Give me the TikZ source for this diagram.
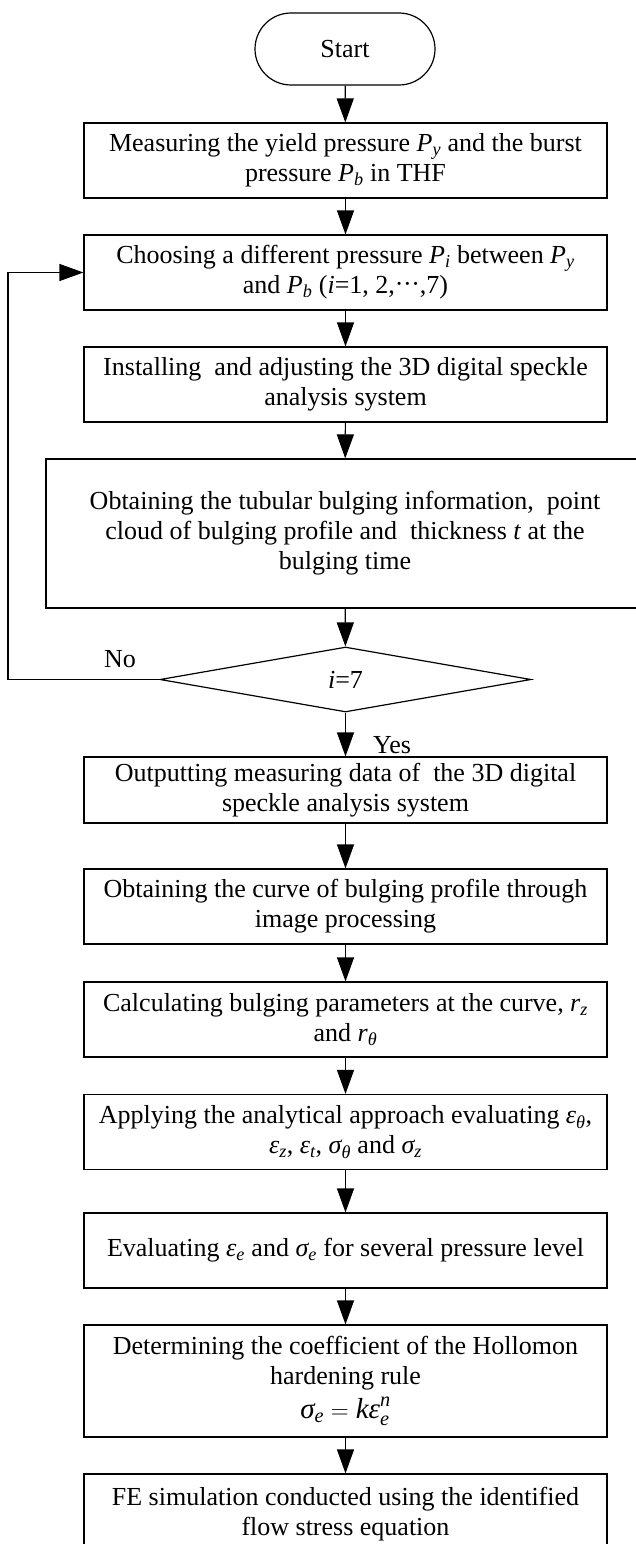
\documentclass[tikz,border=0pt]{standalone}
\usepackage{amsmath}
\usepackage{fontspec}
\setmainfont{Liberation Serif}
\usetikzlibrary{arrows.meta,shapes.geometric,shapes.misc}
\newcommand{\iv}[1]{\textit{#1}}
\newcommand{\mydots}{\raisebox{0.05em}{·\kern-0.02em·\kern-0.02em·}}
\begin{document}
\begin{tikzpicture}[x=1pt,y=-1pt,
  txt/.style={font=\fontsize{26}{30}\selectfont},
  box/.style={draw, line width=1.2pt, minimum width=523pt, inner sep=0pt, align=center, txt},
  arr/.style={-{Triangle[length=24pt,width=17pt]}, line width=1.2pt},
  lbl/.style={txt, inner sep=0pt}]
\useasboundingbox (0,0) rectangle (636,1544);
\clip (0,0) rectangle (636,1544);

\node[draw, line width=1.2pt, rounded rectangle, minimum width=180pt, minimum height=72pt, inner sep=0pt, txt] (start) at (345,49) {Start};

\node[box, minimum height=75pt] (b1) at (345.5,160.5) {Measuring the yield pressure $\iv{P}_{\iv{y}}$ and the burst\\ pressure $\iv{P}_{\iv{b}}$ in THF};
\node[box, minimum height=75pt] (b2) at (345.5,272.5) {Choosing a different pressure $\iv{P}_{\iv{i}}$ between $\iv{P}_{\iv{y}}$\\ and $\iv{P}_{\iv{b}}$ (\iv{i}=1, 2,\mydots,7)};
\node[box, minimum height=75pt] (b3) at (345.5,384.5) {Installing\ \ and adjusting the 3D digital speckle\\ analysis system};
\node[box, minimum width=598pt, minimum height=149pt] (b4) at (345,533.5) {Obtaining the tubular bulging information,\ \ point\\ cloud of bulging profile and\ \ thickness \iv{t} at the\\ bulging time};
\node[diamond, draw, line width=1.2pt, minimum width=371pt, minimum height=65pt, inner sep=0pt, txt] (dia) at (345.5,679.5) {\iv{i}=7};
\node[box, minimum height=66pt] (b5) at (345.5,790) {Outputting measuring data of\ \ the 3D digital\\ speckle analysis system};
\node[box, minimum height=75pt] (b6) at (345.5,906.5) {Obtaining the curve of bulging profile through\\ image processing};
\node[box, minimum height=75pt] (b7) at (345.5,1019.5) {Calculating bulging parameters at the curve, $\iv{r}_{\iv{z}}$\\ and $\iv{r}_{\iv{θ}}$};
\node[box, minimum height=75pt] (b8) at (345.5,1132) {Applying the analytical approach evaluating $\iv{ε}_{\iv{θ}}$,\\ $\iv{ε}_{\iv{z}}$, $\iv{ε}_{\iv{t}}$, $\iv{σ}_{\iv{θ}}$ and $\iv{σ}_{\iv{z}}$};
\node[box, minimum height=75pt] (b9) at (345.5,1250.5) {Evaluating $\iv{ε}_{\iv{e}}$ and $\iv{σ}_{\iv{e}}$ for several pressure level};
\node[box, minimum height=112pt] (b10) at (345.5,1381) {Determining the coefficient of the Hollomon\\ hardening rule\\[4pt] {\fontsize{29}{30}\selectfont $\iv{σ}_{\iv{e}} = \iv{kε}_{\iv{e}}^{\iv{n}}$}};
\node[box, minimum height=80pt] (b11) at (345.5,1514) {FE simulation conducted using the identified\\ flow stress equation};

\draw[arr] (start) -- (b1);
\draw[arr] (b1) -- (b2);
\draw[arr] (b2) -- (b3);
\draw[arr] (b3) -- (b4);
\draw[arr] (b4) -- (dia);
\draw[arr] (dia) -- (b5);
\draw[arr] (b5) -- (b6);
\draw[arr] (b6) -- (b7);
\draw[arr] (b7) -- (b8);
\draw[arr] (b8) -- (b9);
\draw[arr] (b9) -- (b10);
\draw[arr] (b10) -- (b11);

\coordinate (lp) at (8,679.5);
\draw[arr] (dia.west) -- (lp) |- (b2.west);

\node[lbl] (no) at (120,659) {No};
\node[lbl] (yes) at (392,745) {Yes};
\end{tikzpicture}
\end{document}
